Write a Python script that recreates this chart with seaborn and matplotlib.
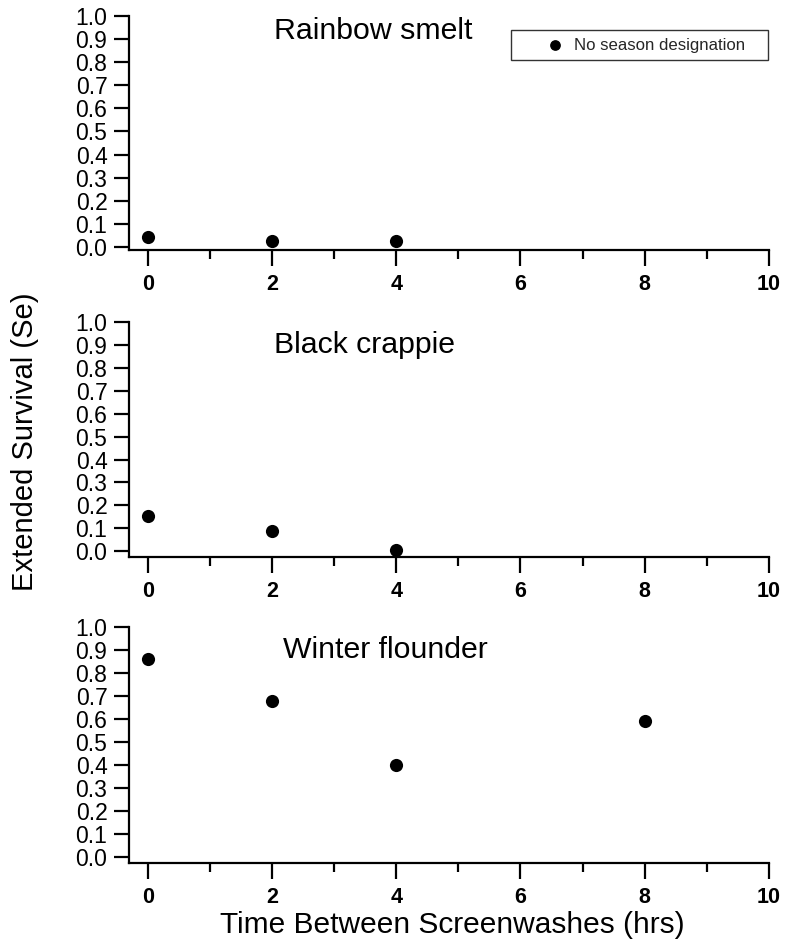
import matplotlib
matplotlib.use("Agg")
import matplotlib.pyplot as plt
import seaborn as sns
import pandas as pd
from matplotlib.ticker import MultipleLocator
from matplotlib import font_manager

sns.set_theme(style="white")
plt.rcParams['font.family'] = ['Liberation Sans', 'DejaVu Sans']

species = ["Rainbow smelt", "Black crappie", "Winter flounder"]
smelt_x = [0, 2, 4]
smelt_y = [0.045, 0.028, 0.028]
crappie_x = [0, 2, 4]
crappie_y = [0.155, 0.088, 0.005]
flounder_x = [0, 2, 4, 8]
flounder_y = [0.86, 0.68, 0.40, 0.59]
series_label = "No season designation"
x_ticks = [0, 2, 4, 6, 8, 10]
y_ticks = [0.0, 0.1, 0.2, 0.3, 0.4, 0.5, 0.6, 0.7, 0.8, 0.9, 1.0]

data = [(smelt_x, smelt_y), (crappie_x, crappie_y), (flounder_x, flounder_y)]

names = {f.name for f in font_manager.fontManager.ttflist}
if "Liberation Sans Narrow" in names:
    xfam = ["Liberation Sans Narrow"]
    xsize = 16.5
else:
    xfam = ["Liberation Sans"]
    xsize = 15.5

fig = plt.figure(figsize=(7.87, 9.5), dpi=100)
W, H = 787.0, 950.0
left = 129 / W
width = (769 - 129) / W
# (top pixel of y=1.0, bottom spine pixel, ymin)
panels = [(16, 250, -0.013), (322, 557, -0.025), (627, 863, -0.025)]
title_pos = [(274, 39), (274, 353), (283, 658)]

axes = []
for i, ((top, bot, ymin), sp, (xs, ys)) in enumerate(zip(panels, species, data)):
    ax = fig.add_axes([left, 1 - bot / H, width, (bot - top) / H])
    df = pd.DataFrame({"x": xs, "y": ys, "s": series_label})
    sns.scatterplot(data=df, x="x", y="y", ax=ax, color="black", s=90,
                    edgecolor="black", linewidth=0, legend=False, zorder=3,
                    clip_on=False)
    ax.set_xlim(-0.3, 10)
    ax.set_ylim(ymin, 1.0)
    ax.set_xticks(x_ticks)
    ax.set_xticklabels([str(t) for t in x_ticks], fontweight="bold",
                       fontsize=xsize, family=xfam)
    ax.xaxis.set_minor_locator(MultipleLocator(1))
    ax.set_yticks(y_ticks)
    ax.set_yticklabels([f"{t:.1f}" for t in y_ticks], fontsize=16.5)
    for s in ["top", "right"]:
        ax.spines[s].set_visible(False)
    for s in ["left", "bottom"]:
        ax.spines[s].set_linewidth(1.6)
        ax.spines[s].set_color("black")
    ax.tick_params(axis="x", which="major", direction="out", length=11.5, width=1.6,
                   pad=5.5, colors="black", bottom=True)
    ax.tick_params(axis="x", which="minor", direction="out", length=6.5, width=1.6,
                   colors="black", bottom=True)
    ax.tick_params(axis="y", which="major", direction="out", length=10.5, width=1.6,
                   pad=5, colors="black", left=True)
    ax.set_xlabel("")
    ax.set_ylabel("")
    tx, ty = title_pos[i]
    fig.text(tx / W, 1 - ty / H, sp, fontsize=21.8, ha="left", va="baseline",
             color="black")
    axes.append(ax)

# legend in the top panel
ax0 = axes[0]
h = ax0.scatter([], [], s=45, color="black", label=series_label)
leg = ax0.legend(handles=[h], loc="center",
                 bbox_to_anchor=(0.597, 0.812, 0.401, 0.128), mode="expand",
                 frameon=True, fancybox=False, fontsize=12.1,
                 handlelength=4.3, handletextpad=-1.0, borderpad=0.45,
                 borderaxespad=0)
leg.get_frame().set_edgecolor("black")
leg.get_frame().set_linewidth(1.0)

fig.text(25 / W, 1 - 442 / H, "Extended Survival (Se)", rotation=90,
         fontsize=21, ha="center", va="center", color="black")
fig.text(452 / W, 1 - 925 / H, "Time Between Screenwashes (hrs)",
         fontsize=21.5, ha="center", va="center", color="black")

fig.savefig("out.png", dpi=100, facecolor="white")
